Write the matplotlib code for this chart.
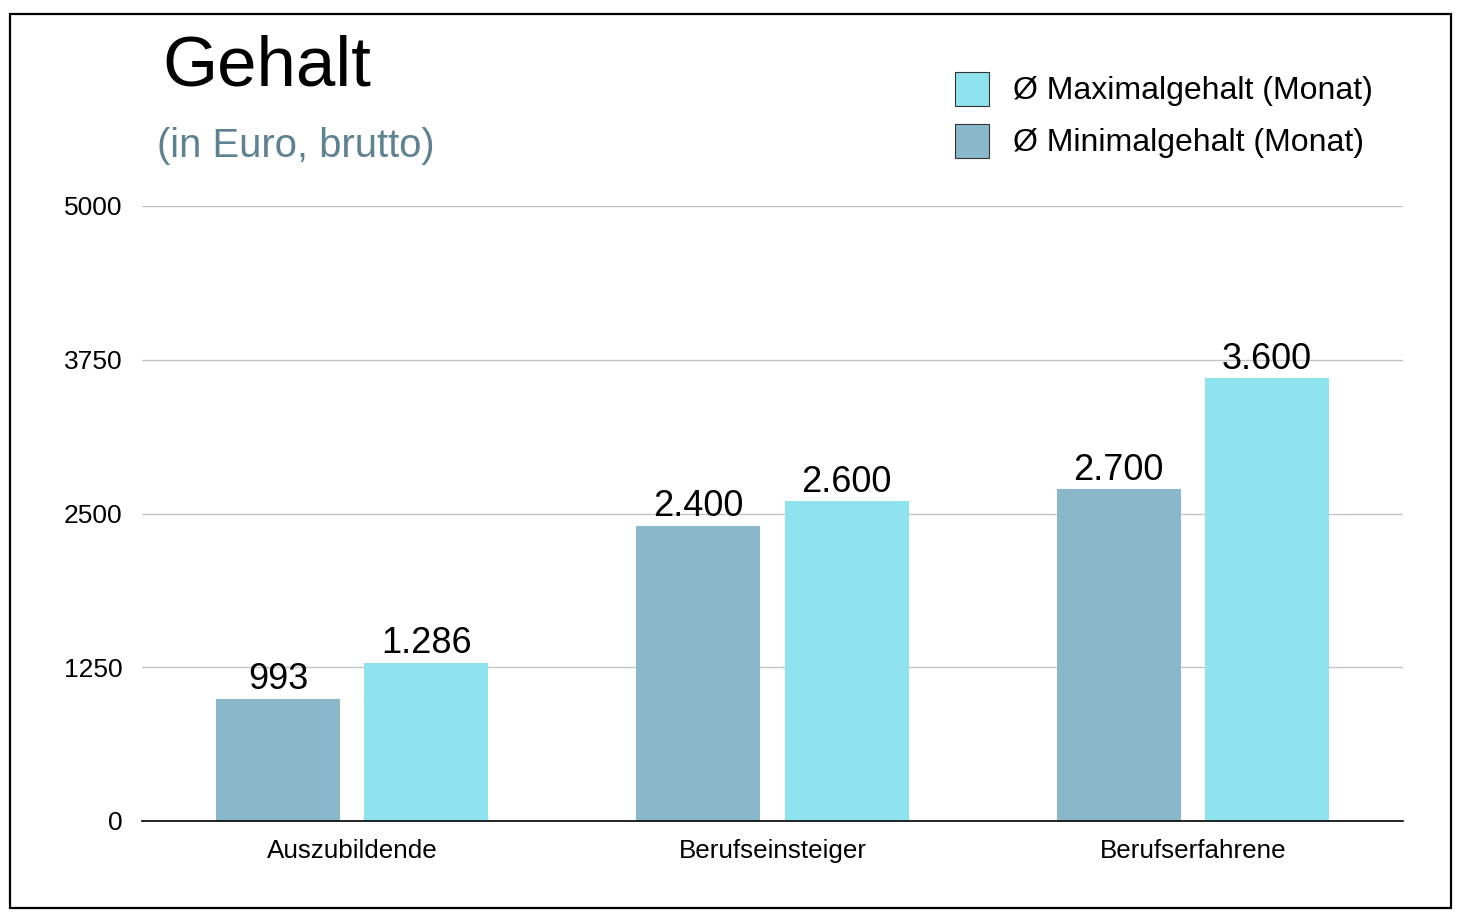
import matplotlib.pyplot as plt
from matplotlib.patches import Rectangle
import numpy as np

plt.rcParams['font.family'] = ['Liberation Sans', 'DejaVu Sans']

# Daten
kategorien = ["Auszubildende", "Berufseinsteiger", "Berufserfahrene"]
minimal = [993, 2400, 2700]
maximal = [1286, 2600, 3600]
minimal_labels = ["993", "2.400", "2.700"]
maximal_labels = ["1.286", "2.600", "3.600"]
yticks = [0, 1250, 2500, 3750, 5000]

farbe_min = "#8AB8CB"
farbe_max = "#8EE3EF"

fig = plt.figure(figsize=(14.64, 9.22), dpi=100)
W, H = 1464, 922

# Rahmen um die ganze Grafik
fig.patches.append(Rectangle((10 / W, 1 - 908 / H), 1441 / W, 894 / H,
                             transform=fig.transFigure, fill=False,
                             edgecolor="black", linewidth=1.6))

ax = fig.add_axes([142 / W, 1 - 821 / H, 1261 / W, 615 / H])

x = np.arange(len(kategorien))
b = 0.295
off = 0.1765
bars_min = ax.bar(x - off, minimal, b, color=farbe_min)
bars_max = ax.bar(x + off, maximal, b, color=farbe_max)
ax.bar_label(bars_min, labels=minimal_labels, padding=1, fontsize=26)
ax.bar_label(bars_max, labels=maximal_labels, padding=1, fontsize=26)

ax.set_xlim(-0.5, 2.5)
ax.set_ylim(0, 5000)
ax.set_yticks(yticks)
ax.set_yticklabels([str(t) for t in yticks])
ax.set_xticks(x)
ax.set_xticklabels(kategorien)
ax.tick_params(axis='y', length=0, pad=14, labelsize=19)
ax.tick_params(axis='x', length=0, pad=13, labelsize=18.7)
ax.yaxis.grid(True, color="#c4c4c4", linewidth=1)
ax.set_axisbelow(True)
for s in ["top", "right", "left"]:
    ax.spines[s].set_visible(False)
ax.spines["bottom"].set_linewidth(1.2)
for lbl in ax.get_yticklabels():
    lbl.set_va("center_baseline")

# Titel
fig.text(162 / W, 1 - 85 / H, "Gehalt", fontsize=51, va="baseline", ha="left")
fig.text(157 / W, 1 - 157 / H, "(in Euro, brutto)", fontsize=28.8,
         color="#5E8291", va="baseline", ha="left")

# Legende
for yy, farbe, txt in [(72, farbe_max, "Ø Maximalgehalt (Monat)"),
                       (124, farbe_min, "Ø Minimalgehalt (Monat)")]:
    fig.patches.append(Rectangle((955 / W, 1 - (yy + 34) / H), 34 / W, 34 / H,
                                 transform=fig.transFigure, facecolor=farbe,
                                 edgecolor="#333333", linewidth=0.8))
    fig.text(1013 / W, 1 - (yy + 19) / H, txt, fontsize=23, va="center", ha="left")

fig.savefig("out.png", dpi=100, facecolor="white")
